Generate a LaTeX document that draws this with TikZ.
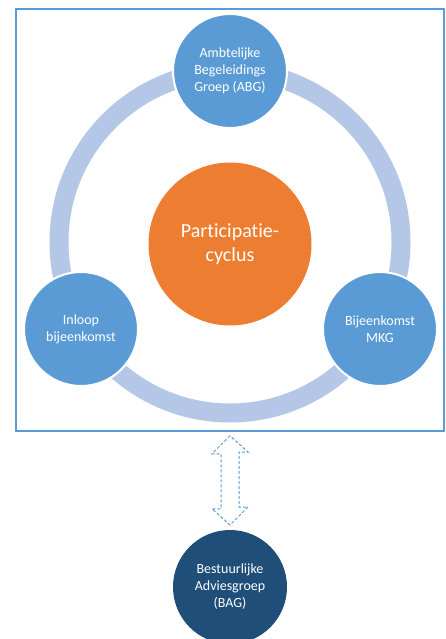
\documentclass[tikz,border=0pt]{standalone}
\usepackage{fontspec}
\setmainfont{Carlito}[Ligatures=NoCommon]
\usepackage{xcolor}
\usepackage{tikz}
\definecolor{stageblue}{HTML}{5B9BD5}
\definecolor{ringblue}{HTML}{B4C7E7}
\definecolor{cycleorange}{HTML}{ED7D31}
\definecolor{boarddark}{HTML}{1F4E79}
\tikzstyle{stage} = [
    circle,
    fill=stageblue,
    draw=white,
    line width=2pt,
    minimum size=114pt,
    inner sep=0pt,
    text=white,
    align=center,
    font=\fontsize{14pt}{17pt}\selectfont
    ]
\tikzstyle{hub} = [
    circle,
    fill=cycleorange,
    minimum size=163pt,
    inner sep=0pt,
    text=white,
    align=center,
    font=\fontsize{20pt}{24pt}\selectfont
    ]
\tikzstyle{ring} = [draw=ringblue, line width=19pt]

\begin{document}
\begin{tikzpicture}[x=1pt, y=-1pt]
        \useasboundingbox (0,0) rectangle (445,639);

        % Frame
        \node (frame) [draw=stageblue, line width=1.5pt, minimum width=428pt, minimum height=422pt, inner sep=0pt] at (230,220) {};

        % Ring
        \coordinate (C) at (230,242);
        \draw[ring] (C) circle (171);

        \node (hub) [hub] at (230,244) {Participatie-\\cyclus};

        \node (ABG) [stage] at (230,71) {Ambtelijke\\Begeleidings\\Groep (ABG)};

        \node (inloop) [stage] at (81,329) {Inloop\\bijeenkomst};

        \node (MKG) [stage] at (380,329) {Bijeenkomst\\MKG};

        \node (BAG) [stage, fill=boarddark, draw=none] at (230,587) {Bestuurlijke\\Adviesgroep\\(BAG)};

        % Double arrow
        \draw[stageblue, line width=1pt, dash pattern=on 3pt off 2pt]
            ([yshift=-4pt]frame.south -| BAG) -- ++(-18,18) -- ++(9,0) -- ++(0,55)
            -- ++(-9,0) -- ([yshift=4pt]BAG.north) -- ++(18,-18) -- ++(-9,0)
            -- ++(0,-55) -- ++(9,0) -- cycle;

    \end{tikzpicture}
\end{document}
